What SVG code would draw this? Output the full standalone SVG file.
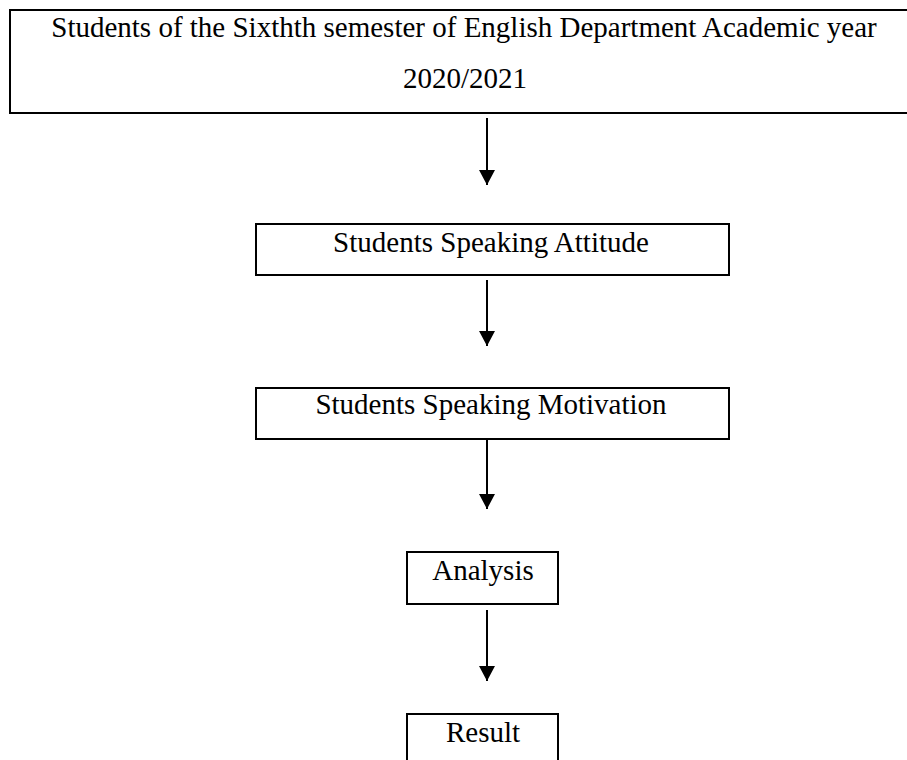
<svg xmlns="http://www.w3.org/2000/svg" width="907" height="760" viewBox="0 0 907 760">
<style>
.box{fill:#fff;stroke:#000;stroke-width:2}
.t{font-family:"Liberation Serif","Times New Roman",serif;font-size:29px;fill:#000;text-anchor:middle}
.c{stroke:#000;stroke-width:2;fill:none;marker-end:url(#ah)}
</style>
<defs>
<marker id="ah" markerUnits="userSpaceOnUse" markerWidth="16" markerHeight="16" viewBox="0 0 16 16" refX="15" refY="8" orient="auto">
<path d="M0,0 L15,8 L0,16 z" fill="#000"/>
</marker>
</defs>
<rect width="907" height="760" fill="#fff"/>
<g id="n1">
<rect class="box" x="10" y="10" width="910" height="103"/>
<text class="t" x="464" y="37">Students of the Sixthth semester of English Department Academic year</text>
<text class="t" x="465" y="88">2020/2021</text>
</g>
<g id="n2">
<rect class="box" x="256" y="224" width="473" height="51"/>
<text class="t" x="491" y="252">Students Speaking Attitude</text>
</g>
<g id="n3">
<rect class="box" x="256" y="388" width="473" height="51"/>
<text class="t" x="491" y="414">Students Speaking Motivation</text>
</g>
<g id="n4">
<rect class="box" x="407" y="552" width="151" height="52"/>
<text class="t" x="483" y="580">Analysis</text>
</g>
<g id="n5">
<rect class="box" x="407" y="714" width="151" height="60"/>
<text class="t" x="483" y="742">Result</text>
</g>
<g id="connectors">
<line class="c" x1="487" y1="118" x2="487" y2="185"/>
<line class="c" x1="487" y1="280" x2="487" y2="346"/>
<line class="c" x1="487" y1="440" x2="487" y2="509"/>
<line class="c" x1="487" y1="610" x2="487" y2="681"/>
</g>
</svg>
